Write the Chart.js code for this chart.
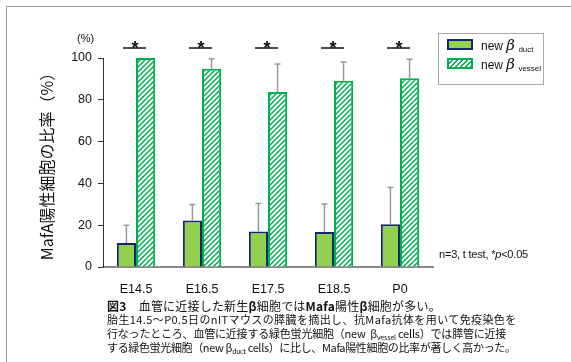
<!DOCTYPE html>
<html>
<head>
<meta charset="utf-8">
<script src="https://cdn.jsdelivr.net/npm/chart.js@4.4.1/dist/chart.umd.min.js"></script>
<style>
body { margin: 0; background: #fff; font-family: "Liberation Sans", Arial, sans-serif; color: #111; }
#wrap { position: relative; width: 571px; height: 362px; overflow: hidden; }
#frame { position: absolute; left: 6px; top: 6px; width: 600px; height: 400px; border-top: 1px solid #999; border-left: 1px solid #999; }
#chart { position: absolute; left: 0; top: 0; }
.txt { position: absolute; white-space: nowrap; }
#pct { left: 77px; top: 32px; font-size: 11px; }
#note { left: 439px; top: 248px; font-size: 11px; letter-spacing: -0.2px; }
#legend { position: absolute; left: 438px; top: 33px; width: 104px; height: 50px; border: 1px solid #aaa; }
#legend .row { position: absolute; left: 42px; font-size: 12px; white-space: nowrap; }
#legend .sw { position: absolute; left: 8px; width: 26px; height: 11px; box-sizing: border-box; }
#legend i { font-family: "DejaVu Serif", serif; font-size: 15px; }
#legend sub { font-size: 8px; vertical-align: -2px; }
.duct { background: #92d050; border: 2px solid #14286b; }
.vessel { border: 2px solid #00b050; background: repeating-linear-gradient(135deg, #fff 0 2px, #00b050 2px 3.5px); }
.cap { left: 107px; font-family: "Noto Sans CJK JP", sans-serif; font-size: 11px; }
.cap sub { font-size: 7px; vertical-align: -2px; }
</style>
</head>
<body>
<div id="wrap">
  <div id="frame"></div>
  <canvas id="chart" width="571" height="362"></canvas>
  <div class="txt" id="pct">(%)</div>
  <div id="legend">
    <span class="sw duct" style="top:5px"></span>
    <div class="row" style="top:2px">new <i>β</i> <sub>duct</sub></div>
    <span class="sw vessel" style="top:24px"></span>
    <div class="row" style="top:21px">new <i>β</i> <sub>vessel</sub></div>
  </div>
  <div class="txt" id="note">n=3, t test, *<i>p</i>&lt;0.05</div>
  <div class="txt cap" style="top:297px;font-size:12px;letter-spacing:0.2px"><b>図3</b>　血管に近接した新生<b>β</b>細胞では<b>Mafa</b>陽性<b>β</b>細胞が多い。</div>
  <div class="txt cap" style="top:311px;letter-spacing:0.4px">胎生14.5～P0.5日のnITマウスの膵臓を摘出し、抗Mafa抗体を用いて免疫染色を</div>
  <div class="txt cap" style="top:325px;letter-spacing:-0.2px">行なったところ、血管に近接する緑色蛍光細胞（new&nbsp; β<sub>vessel</sub> cells）では膵管に近接</div>
  <div class="txt cap" style="top:339px;letter-spacing:-0.35px">する緑色蛍光細胞（new β<sub>duct</sub> cells）に比し、Mafa陽性細胞の比率が著しく高かった。</div>
</div>
<script>
var stages = ["E14.5", "E16.5", "E17.5", "E18.5", "P0"];
var ductVals = [11.5, 22.2, 17, 16.8, 20.5];
var ductErr = [8.5, 7.7, 13.4, 13.4, 17.5];
var vesselVals = [100, 94.8, 83.7, 89.1, 90.3];
var vesselErr = [0, 4.9, 13.4, 9.0, 9.1];
var significant = [true, true, true, true, true];

function hatch() {
    var c = document.createElement('canvas');
    c.width = 5; c.height = 5;
    var g = c.getContext('2d');
    g.fillStyle = '#fff';
    g.fillRect(0, 0, 5, 5);
    g.strokeStyle = '#00b050';
    g.lineWidth = 1.5;
    g.beginPath();
    g.moveTo(0, 5); g.lineTo(5, 0);
    g.moveTo(-2.5, 2.5); g.lineTo(2.5, -2.5);
    g.moveTo(2.5, 7.5); g.lineTo(7.5, 2.5);
    g.stroke();
    return g.createPattern(c, 'repeat');
}

// error bars (upper only) and the significance marks
var extras = {
    id: 'extras',
    afterDatasetsDraw: function(chart) {
        var ctx = chart.ctx, x = chart.scales.x, y = chart.scales.y;
        var errs = [ductErr, vesselErr];
        ctx.save();
        ctx.strokeStyle = '#999';
        ctx.lineWidth = 1.5;
        chart.data.datasets.forEach(function(ds, i) {
            chart.getDatasetMeta(i).data.forEach(function(bar, j) {
                var e = errs[i][j];
                if (!e) return;
                var top = y.getPixelForValue(ds.data[j] + e);
                ctx.beginPath();
                ctx.moveTo(bar.x, bar.y);
                ctx.lineTo(bar.x, top);
                ctx.moveTo(bar.x - 3, top);
                ctx.lineTo(bar.x + 3, top);
                ctx.stroke();
            });
        });
        ctx.strokeStyle = '#111';
        ctx.fillStyle = '#111';
        ctx.lineWidth = 1.5;
        ctx.font = 'bold 18px "Liberation Sans"';
        ctx.textAlign = 'center';
        var ly = chart.chartArea.top - 10;
        significant.forEach(function(s, i) {
            if (!s) return;
            var cx = x.getPixelForValue(i) - 1;
            ctx.beginPath();
            ctx.moveTo(cx - 12, ly);
            ctx.lineTo(cx + 11, ly);
            ctx.stroke();
            ctx.fillText('*', cx, ly + 6);
        });
        ctx.restore();
    }
};

new Chart(document.getElementById('chart'), {
    type: 'bar',
    data: {
        labels: stages,
        datasets: [{
            label: 'new β duct',
            data: ductVals,
            backgroundColor: '#92d050',
            borderColor: '#14286b',
            borderWidth: 2
        }, {
            label: 'new β vessel',
            data: vesselVals,
            backgroundColor: hatch(),
            borderColor: '#00b050',
            borderWidth: 2
        }]
    },
    options: {
        responsive: false,
        animation: false,
        layout: { padding: { left: 33, top: 58, right: 138, bottom: 65 } },
        plugins: { legend: { display: false }, tooltip: { enabled: false } },
        datasets: { bar: { categoryPercentage: 0.58, barPercentage: 1 } },
        scales: {
            x: {
                grid: { display: false },
                border: { color: '#888', width: 2 },
                ticks: { color: '#111', font: { family: 'Liberation Sans', size: 12.5 }, padding: 7 },
                afterFit: function(s) { s.height = 30; }
            },
            y: {
                min: 0, max: 100,
                grid: { drawOnChartArea: false, tickLength: 5, color: '#333' },
                border: { color: '#333', width: 1 },
                ticks: { stepSize: 20, color: '#111', font: { family: 'Liberation Sans', size: 12.5 }, padding: 6 },
                title: {
                    display: true,
                    text: 'MafA陽性細胞の比率（%）',
                    color: '#111',
                    font: { family: 'Noto Sans CJK JP', size: 16 }
                },
                afterFit: function(s) { s.width = 70; }
            }
        }
    },
    plugins: [extras]
});
</script>
</body>
</html>
